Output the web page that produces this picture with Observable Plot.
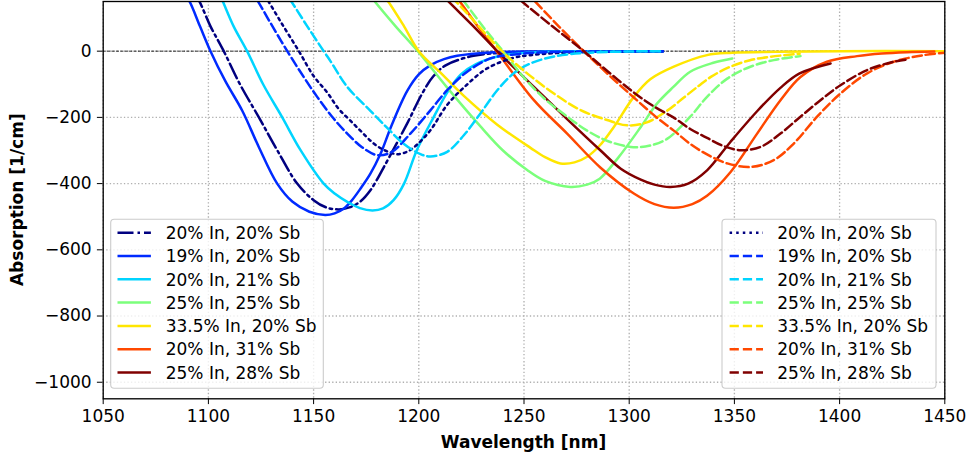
<!DOCTYPE html>
<html><head><meta charset="utf-8">
<script src="https://cdn.jsdelivr.net/npm/d3@7"></script>
<script src="https://cdn.jsdelivr.net/npm/@observablehq/plot@0.6"></script>
<style>html,body{margin:0;padding:0;background:#fff} svg{display:block}</style>
</head><body><div id="chart"></div>
<script>
// ---- data ----
const labels = ["20% In, 20% Sb","19% In, 20% Sb","20% In, 21% Sb","25% In, 25% Sb","33.5% In, 20% Sb","20% In, 31% Sb","25% In, 28% Sb"];
const colors = ["#000080","#002bff","#00d4ff","#7bff7b","#ffe600","#ff4800","#800000"];
const xTicks = [1050,1100,1150,1200,1250,1300,1350,1400,1450];
const yTicks = [-1000,-800,-600,-400,-200,0];
const xLabel = "Wavelength [nm]";
const yLabel = "Absorption [1/cm]";

// solid set (left legend)
const s_20In20Sb = [[1093,175],[1095.4,154],[1101,75],[1107.3,0],[1115,-100],[1124,-200],[1132.7,-299],[1142.2,-400],[1150,-450],[1156,-472],[1162,-478],[1167,-472],[1172,-455],[1177,-420],[1183.4,-350],[1194.5,-218],[1201.6,-128],[1207,-75],[1213,-42],[1226,-14],[1240,-5],[1260,-1],[1290,0],[1316,0]];
const s_19In20Sb = [[1088,175],[1090.7,154],[1096,75],[1101,0],[1108,-90],[1116.1,-180],[1124,-290],[1132.7,-400],[1140,-455],[1148,-485],[1155.5,-495],[1160,-490],[1164.4,-475],[1168,-452],[1172.3,-415],[1177,-370],[1181.8,-310],[1187,-225],[1194.5,-120],[1200,-70],[1205.6,-42],[1212,-24],[1218.2,-14],[1234,-4],[1255,-1],[1290,0],[1316,0]];
const s_20In21Sb = [[1104,190],[1106.6,154],[1112,75],[1118.4,0],[1126,-100],[1135.1,-200],[1143.8,-299],[1154.8,-400],[1160,-430],[1166,-455],[1172,-474],[1178,-481],[1183,-475],[1188,-450],[1193,-400],[1199,-300],[1207,-200],[1214,-120],[1220,-70],[1227,-40],[1238.8,-14],[1251.5,-5],[1270,-1],[1295,0],[1316,0]];
const s_25In25Sb = [[1175,185],[1178.6,154],[1189,75],[1199.5,0],[1213.5,-110],[1229,-225],[1240,-300],[1251.5,-359],[1260,-392],[1272,-410],[1280,-403],[1286,-385],[1295,-320],[1305.5,-229],[1313,-160],[1321,-108],[1329,-62],[1340,-35],[1349,-22]];
const s_335In20Sb = [[1181,185],[1185,154],[1193,75],[1200,0],[1210.3,-65],[1221.4,-135],[1237.3,-222],[1253.1,-292],[1260,-320],[1267.3,-339],[1274,-336],[1280,-319],[1286,-285],[1292.7,-229],[1302.2,-138],[1310,-85],[1321.2,-47],[1337,-12],[1349,-5],[1370,-2],[1400,0],[1450,0]];
const s_20In31Sb = [[1215,185],[1219,154],[1228,75],[1237,0],[1254.7,-148],[1270.5,-249],[1286.4,-352],[1302.2,-430],[1312,-462],[1321.2,-473],[1330,-462],[1337,-437],[1348.2,-365],[1360.8,-249],[1371.9,-148],[1381.4,-78],[1394,-32],[1408.3,-15],[1420,-7],[1432,-3],[1445,-1]];
const s_25In28Sb = [[1209,185],[1213.5,154],[1226,75],[1237.3,0],[1254.7,-108],[1270.5,-205],[1286.4,-300],[1296,-355],[1305.5,-388],[1312,-403],[1319.6,-410],[1328,-400],[1337,-360],[1348,-275],[1361,-180],[1372,-110],[1381,-67],[1395.7,-37]];

// dashed set (right legend)
const d_20In20Sb = [[1125,185],[1128.2,154],[1135,82],[1143,0],[1150,-75],[1156.5,-125],[1162,-175],[1167.5,-210],[1173,-245],[1178.6,-279],[1184,-300],[1189.7,-311],[1195,-302],[1199.2,-282],[1205.5,-239],[1213.5,-162],[1221.4,-110],[1232.5,-52],[1245.1,-20],[1253,-12],[1265,-6],[1285,-2],[1316,0]];
const d_19In20Sb = [[1120,185],[1123.2,154],[1130,80],[1137.5,0],[1145.3,-78],[1151.7,-138],[1158.8,-198],[1166,-249],[1173,-290],[1180.2,-314],[1187,-305],[1196,-249],[1205.6,-178],[1213.5,-118],[1223,-62],[1234,-22],[1246.8,-9],[1260,-3],[1285,-1],[1316,0]];
const d_20In21Sb = [[1135,190],[1139,154],[1147,75],[1154.8,0],[1158,-30],[1166,-108],[1177,-180],[1185,-232],[1192.9,-280],[1200.8,-311],[1205.6,-318],[1213.5,-304],[1221.4,-254],[1229.3,-188],[1237.3,-118],[1245.1,-67],[1253.1,-37],[1265,-15],[1280,-5],[1300,-1],[1316,0]];
const d_25In25Sb = [[1217,185],[1221,154],[1231,70],[1240,0],[1250,-80],[1260,-145],[1270,-195],[1280,-240],[1290,-272],[1302,-290],[1310,-285],[1318,-265],[1329,-198],[1337,-138],[1346.6,-83],[1357.6,-47],[1368.7,-27],[1381.4,-15]];
const d_335In20Sb = [[1211,190],[1217,154],[1226,93],[1239,3],[1251.5,-67],[1264.2,-128],[1276.9,-178],[1289.5,-208],[1299,-224],[1308,-216],[1318,-180],[1326,-140],[1333,-105],[1339,-77],[1347,-50],[1357,-28],[1367,-17],[1381,-8]];
const d_20In31Sb = [[1251,178],[1254.7,154],[1266.5,75],[1278.4,0],[1290,-70],[1302.2,-140],[1313,-200],[1321.2,-240],[1329,-280],[1337,-312],[1346.6,-339],[1357.6,-350],[1368.7,-329],[1378.2,-279],[1389.3,-198],[1400.4,-128],[1413.1,-67],[1425.7,-32],[1440,-12],[1450,-5]];
const d_25In28Sb = [[1244,180],[1248.3,154],[1263.5,75],[1278.4,0],[1290,-62],[1302.2,-125],[1312,-168],[1321,-200],[1329,-235],[1337,-262],[1345,-287],[1353,-299],[1362.5,-289],[1371.9,-249],[1381.4,-198],[1390.9,-148],[1400.4,-103],[1413.1,-57],[1425.7,-32],[1432,-25]];

const solidSeries = [s_20In20Sb,s_19In20Sb,s_20In21Sb,s_25In25Sb,s_335In20Sb,s_20In31Sb,s_25In28Sb];
const dashedSeries = [d_20In20Sb,d_19In20Sb,d_20In21Sb,d_25In25Sb,d_335In20Sb,d_20In31Sb,d_25In28Sb];

// ---- styles ----
const LW = 2.5;
const DASHDOT = "16,4,2.5,4", DOTTED = "2.5,4.1", DASHED = "9.25,4";
const solidDash = [DASHDOT,null,null,null,null,null,null];
const dashedDash = [DOTTED,DASHED,DASHED,DASHED,DASHED,DASHED,DASHED];
const FONT = "'DejaVu Sans', sans-serif";
const FS = 17;
const fmtY = d => d < 0 ? "\u2212" + Math.abs(d) : String(d);

const marks = [
  Plot.gridX(xTicks, {stroke:"#b0b0b0", strokeOpacity:1, strokeWidth:1.33, strokeDasharray:"1.33,2.2"}),
  Plot.gridY(yTicks, {stroke:"#b0b0b0", strokeOpacity:1, strokeWidth:1.33, strokeDasharray:"1.33,2.2"}),
  Plot.ruleY([0], {stroke:"black", strokeWidth:0.85, strokeDasharray:"3.1,1.3"})
];
solidSeries.forEach((s,i) => marks.push(Plot.line(s, {x:d=>d[0], y:d=>d[1], stroke:colors[i], strokeWidth:LW, strokeDasharray:solidDash[i], curve:"catmull-rom", clip:true})));
dashedSeries.forEach((s,i) => marks.push(Plot.line(s, {x:d=>d[0], y:d=>d[1], stroke:colors[i], strokeWidth:LW, strokeDasharray:dashedDash[i], curve:"catmull-rom", clip:true})));
marks.push(Plot.frame({stroke:"black", strokeWidth:1.33}));

const plot = Plot.plot({
  width: 968, height: 457,
  marginLeft: 102.7, marginRight: 23.7, marginTop: 1, marginBottom: 58.7,
  style: {fontFamily: FONT, fontSize: FS + "px", color: "black", background: "white"},
  x: {domain:[1050,1450], ticks:xTicks, tickFormat:d=>String(d), tickSize:5.8, tickPadding:5.8, label:null},
  y: {domain:[-1050,150], ticks:yTicks, tickFormat:fmtY, tickSize:5.8, tickPadding:5.8, label:null},
  marks
});
document.getElementById("chart").appendChild(plot);

// ---- axis titles and legends ----
const svg = d3.select(plot);
svg.append("text").attr("x", 523.5).attr("y", 447.6).attr("text-anchor","middle")
  .attr("font-family", FONT).attr("font-size", FS).attr("font-weight","bold").attr("fill","black").text(xLabel);
svg.append("text").attr("transform","translate(23,199.7) rotate(-90)").attr("text-anchor","middle")
  .attr("font-family", FONT).attr("font-size", FS).attr("font-weight","bold").attr("fill","black").text(yLabel);

function legend(bx, by, bw, bh, hx, tx, dashes) {
  const g = svg.append("g");
  g.append("rect").attr("x",bx).attr("y",by).attr("width",bw).attr("height",bh).attr("rx",3.5)
    .attr("fill","white").attr("fill-opacity",0.8).attr("stroke","#cccccc").attr("stroke-width",1.1);
  labels.forEach((lab,i) => {
    const cy = 232.7 + 23.3*i;
    g.append("line").attr("x1",hx).attr("x2",hx+33.4).attr("y1",cy).attr("y2",cy)
      .attr("stroke",colors[i]).attr("stroke-width",LW).attr("stroke-dasharray",dashes[i]);
    g.append("text").attr("x",tx).attr("y",cy+6.2).attr("text-anchor","start").attr("font-family",FONT).attr("font-size",FS)
      .attr("fill","black").text(lab);
  });
}
legend(110.7, 219.3, 212.6, 169, 117.5, 165.7, solidDash);
legend(722, 219.3, 214, 169, 729.6, 777.3, dashedDash);
</script>
</body></html>
